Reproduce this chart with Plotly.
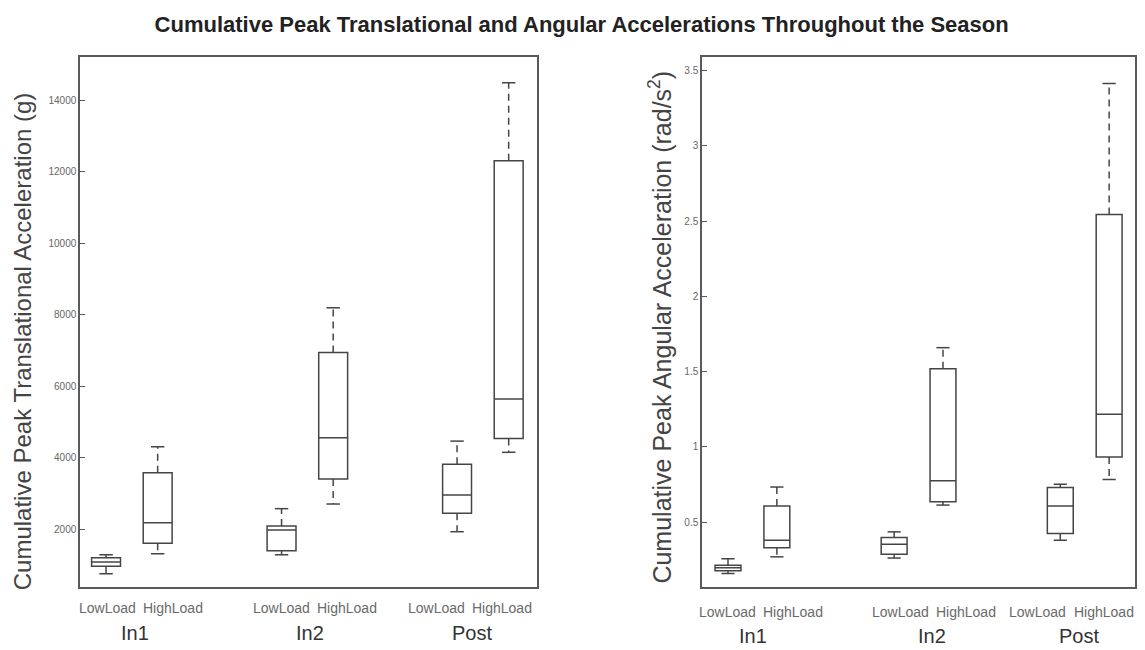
import plotly.graph_objects as go

# Groups and load conditions
groups = ["In1", "In2", "Post"]
loads = ["LowLoad", "HighLoad"]
positions = [0, 1, 3.4, 4.4, 6.8, 7.8]

# Cumulative peak translational acceleration (g): box summary per group/load
trans_lower = [750, 1310, 1280, 2700, 1925, 4145]
trans_q1 = [960, 1600, 1395, 3400, 2440, 4535]
trans_median = [1080, 2175, 1970, 4555, 2950, 5635]
trans_q3 = [1200, 3575, 2085, 6940, 3810, 12300]
trans_upper = [1280, 4300, 2570, 8190, 4460, 14485]
trans_ticks = [2000, 4000, 6000, 8000, 10000, 12000, 14000]

# Cumulative peak angular acceleration (rad/s^2)
ang_lower = [0.16, 0.27, 0.262, 0.614, 0.381, 0.784]
ang_q1 = [0.177, 0.330, 0.288, 0.636, 0.425, 0.934]
ang_median = [0.197, 0.381, 0.354, 0.775, 0.608, 1.217]
ang_q3 = [0.215, 0.608, 0.398, 1.52, 0.730, 2.544]
ang_upper = [0.257, 0.734, 0.436, 1.66, 0.752, 3.416]
ang_ticks = [0.5, 1, 1.5, 2, 2.5, 3, 3.5]

# Where the category labels sit along each x axis
load_label_x = {"x": [0.03, 1.30, 3.39, 4.66, 6.40, 7.67],
                "x2": [-0.01, 1.33, 3.54, 4.88, 6.33, 7.69]}
group_label_x = {"x": [0.56, 3.95, 7.09], "x2": [0.51, 4.17, 7.18]}

tick_labels = [ld for _ in groups for ld in loads]

LINE = "#454545"
FRAME = "#5a5a5a"
FONT = "Liberation Sans, Arial, sans-serif"

fig = go.Figure()


def add_panel(xa, ya, lower, q1, med, q3, upper, box_w, cap_half):
    # boxes (whiskers are drawn separately so they can be dashed)
    fig.add_trace(go.Box(
        x=positions, q1=q1, median=med, q3=q3,
        lowerfence=q1, upperfence=q3,
        width=box_w, whiskerwidth=0,
        fillcolor="rgba(255,255,255,0)",
        line=dict(color=LINE, width=1.5),
        boxpoints=False, hoverinfo="skip",
        xaxis=xa, yaxis=ya, showlegend=False,
    ))
    wx, wy, cx, cy = [], [], [], []
    for p, lo, a, b, hi in zip(positions, lower, q1, q3, upper):
        wx += [p, p, None, p, p, None]
        wy += [b, hi, None, a, lo, None]
        cx += [p - cap_half, p + cap_half, None, p - cap_half, p + cap_half, None]
        cy += [hi, hi, None, lo, lo, None]
    fig.add_trace(go.Scatter(
        x=wx, y=wy, mode="lines",
        line=dict(color=LINE, width=1.5, dash="7px,5px"),
        xaxis=xa, yaxis=ya, showlegend=False, hoverinfo="skip",
    ))
    fig.add_trace(go.Scatter(
        x=cx, y=cy, mode="lines",
        line=dict(color=LINE, width=1.5),
        xaxis=xa, yaxis=ya, showlegend=False, hoverinfo="skip",
    ))


add_panel("x", "y", trans_lower, trans_q1, trans_median, trans_q3, trans_upper, 0.56, 0.13)
add_panel("x2", "y2", ang_lower, ang_q1, ang_median, ang_q3, ang_upper, 0.53, 0.135)

xaxis_common = dict(
    showticklabels=False, ticks="", showgrid=False, zeroline=False,
    showline=True, mirror=True, linecolor=FRAME, linewidth=1.5,
)
yaxis_common = dict(
    tickmode="array",
    showgrid=False, zeroline=False,
    showline=True, mirror=True, linecolor=FRAME, linewidth=1.5,
    ticks="inside", ticklen=5, tickcolor=FRAME, tickwidth=1,
    tickfont=dict(family=FONT, size=10, color="#666666"),
)

fig.update_layout(
    width=1145, height=650,
    margin=dict(l=0, r=0, t=0, b=0),
    paper_bgcolor="white", plot_bgcolor="white",
    showlegend=False,
    xaxis=dict(domain=[0.0699, 0.4686], range=[-0.504, 8.34], anchor="y", **xaxis_common),
    yaxis=dict(domain=[0.097, 0.912], range=[380, 15200], anchor="x",
               tickvals=trans_ticks, ticktext=[str(t) for t in trans_ticks],
               **yaxis_common),
    xaxis2=dict(domain=[0.6131, 0.9913], range=[-0.532, 8.33], anchor="y2", **xaxis_common),
    yaxis2=dict(domain=[0.097, 0.912], range=[0.07, 3.59], anchor="x2",
                tickvals=ang_ticks, ticktext=[f"{t:g}" for t in ang_ticks],
                **yaxis_common),
    title=dict(
        text="<b>Cumulative Peak Translational and Angular Accelerations Throughout the Season</b>",
        x=0.508, y=0.963, xanchor="center", yanchor="middle",
        font=dict(family=FONT, size=22, color="#222222"),
    ),
)

annotations = []
# load labels under each box pair, then the group names beneath them
for xa, y_load, y_group in (("x", 1 - 608 / 650, 1 - 633 / 650),
                            ("x2", 1 - 612 / 650, 1 - 636 / 650)):
    for txt, px in zip(tick_labels, load_label_x[xa]):
        annotations.append(dict(
            x=px, y=y_load, xref=xa, yref="paper", text=txt, showarrow=False,
            xanchor="center", yanchor="middle",
            font=dict(family=FONT, size=14, color="#6a6a6a"),
        ))
    for g, px in zip(groups, group_label_x[xa]):
        annotations.append(dict(
            x=px, y=y_group, xref=xa, yref="paper", text=g, showarrow=False,
            xanchor="center", yanchor="middle",
            font=dict(family=FONT, size=20, color="#333333"),
        ))
annotations.append(dict(
    x=22 / 1145, y=0.475, xref="paper", yref="paper", textangle=-90,
    text="Cumulative Peak Translational Acceleration (g)", showarrow=False,
    xanchor="center", yanchor="middle",
    font=dict(family=FONT, size=24, color="#444444"),
))
annotations.append(dict(
    x=660 / 1145, y=0.496, xref="paper", yref="paper", textangle=-90,
    text="Cumulative Peak Angular Acceleration (rad/s<sup>2</sup>)", showarrow=False,
    xanchor="center", yanchor="middle",
    font=dict(family=FONT, size=25, color="#444444"),
))
fig.update_layout(annotations=annotations)

fig.write_html("out.html")
